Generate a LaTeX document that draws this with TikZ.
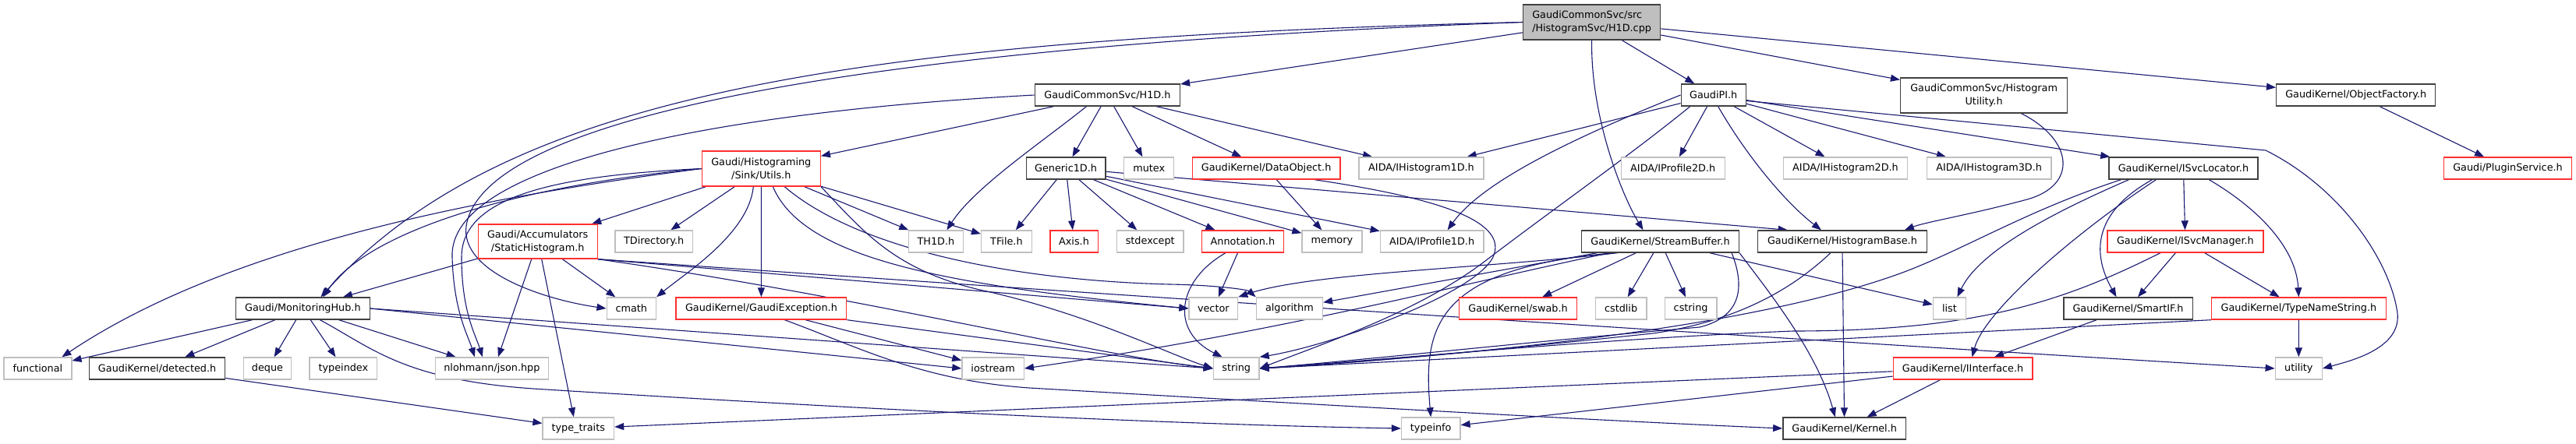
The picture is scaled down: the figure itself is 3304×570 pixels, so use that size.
\documentclass[tikz,border=0pt]{standalone}
\usepackage{fontspec}
\newfontfamily\dvs{DejaVu Sans}
\usetikzlibrary{arrows.meta}
\definecolor{edgec}{HTML}{191970}
\definecolor{grayc}{HTML}{BFBFBF}
\definecolor{redc}{HTML}{FF3030}
\definecolor{blackc}{HTML}{404040}
\definecolor{rootfill}{HTML}{BFBFBF}
\pgfdeclarelayer{edgelayer}
\pgfsetlayers{edgelayer,main}
\tikzset{
 nb/.style={rectangle, inner sep=0pt, fill=white, line width=1.4pt, font={\dvs\fontsize{12.8pt}{17pt}\selectfont}, align=center, minimum height=28pt, text=black},
 gb/.style={nb, draw=grayc},
 rb/.style={nb, draw=redc},
 kb/.style={nb, draw=blackc},
 rootb/.style={nb, draw=blackc, fill=rootfill, align=left},
 lnk/.style={draw=edgec, line width=1.1pt, -{Triangle[length=12pt,width=9pt]}},
}
\begin{document}
\begin{tikzpicture}[x=1pt,y=-1pt]
\useasboundingbox (0,0) rectangle (3304,570);
% row 0
\node[rootb, minimum width=176pt, minimum height=45pt] (root) at (2041.6,28.5) {GaudiCommonSvc/src\\/HistogramSvc/H1D.cpp};
% row 1
\node[kb, minimum width=186pt] (h1dh) at (1420.4,122) {GaudiCommonSvc/H1D.h};
\node[kb, minimum width=83pt] (gpi) at (2197.7,122) {GaudiPI.h};
\node[kb, minimum width=214pt, minimum height=45pt] (hutil) at (2544.6,122.5) {GaudiCommonSvc/Histogram\\Utility.h};
\node[kb, minimum width=204pt] (objf) at (3021.7,122) {GaudiKernel/ObjectFactory.h};
% row 2
\node[rb, minimum width=152pt, minimum height=45pt] (utils) at (976.3,216.5) {Gaudi/Histograming\\/Sink/Utils.h};
\node[kb, minimum width=101.5pt] (gen1d) at (1367.1,216) {Generic1D.h};
\node[gb, minimum width=64pt] (mutex) at (1473.7,216) {mutex};
\node[rb, minimum width=189.6pt] (dataobj) at (1624.1,216) {GaudiKernel/DataObject.h};
\node[gb, minimum width=159.7pt] (ih1d) at (1823,216) {AIDA/IHistogram1D.h};
\node[gb, minimum width=133pt] (ip2d) at (2145.7,216) {AIDA/IProfile2D.h};
\node[gb, minimum width=159pt] (ih2d) at (2367,216) {AIDA/IHistogram2D.h};
\node[gb, minimum width=159.6pt] (ih3d) at (2551.2,216) {AIDA/IHistogram3D.h};
\node[kb, minimum width=190.8pt] (isvcloc) at (2800.4,216) {GaudiKernel/ISvcLocator.h};
\node[rb, minimum width=164pt] (plugin) at (3216.5,216) {Gaudi/PluginService.h};
% row 3
\node[rb, minimum width=153pt, minimum height=44pt] (stath) at (689.7,310) {Gaudi/Accumulators\\/StaticHistogram.h};
\node[gb, minimum width=99.7pt] (tdir) at (838.7,310) {TDirectory.h};
\node[gb, minimum width=70pt] (th1d) at (1200.4,310) {TH1D.h};
\node[gb, minimum width=64.6pt] (tfile) at (1290.9,310) {TFile.h};
\node[rb, minimum width=61.4pt] (axis) at (1377.5,310) {Axis.h};
\node[gb, minimum width=85.4pt] (stdexc) at (1475.2,310) {stdexcept};
\node[rb, minimum width=105pt] (annot) at (1593.9,310) {Annotation.h};
\node[gb, minimum width=76.8pt] (memory) at (1708.4,310) {memory};
\node[gb, minimum width=132.5pt] (ip1d) at (1836.6,310) {AIDA/IProfile1D.h};
\node[kb, minimum width=201.8pt] (sbuf) at (2129.5,310) {GaudiKernel/StreamBuffer.h};
\node[kb, minimum width=217pt] (hbase) at (2362.9,310) {GaudiKernel/HistogramBase.h};
\node[rb, minimum width=200pt] (isvcman) at (2802.9,310) {GaudiKernel/ISvcManager.h};
% row 4
\node[kb, minimum width=171.8pt] (mhub) at (388.4,396) {Gaudi/MonitoringHub.h};
\node[gb, minimum width=63.2pt] (cmath) at (809.8,396) {cmath};
\node[rb, minimum width=218.6pt] (gexc) at (976.4,396) {GaudiKernel/GaudiException.h};
\node[gb, minimum width=62.5pt] (vector) at (1556.3,396) {vector};
\node[gb, minimum width=85pt] (algo) at (1653.9,396) {algorithm};
\node[rb, minimum width=151pt] (swab) at (1947,396) {GaudiKernel/swab.h};
\node[gb, minimum width=65.4pt] (cstdlib) at (2079.1,396) {cstdlib};
\node[gb, minimum width=66.4pt] (cstring) at (2168.6,396) {cstring};
\node[gb, minimum width=42pt] (list) at (2500.4,396) {list};
\node[kb, minimum width=165.4pt] (smartif) at (2729.5,396) {GaudiKernel/SmartIF.h};
\node[rb, minimum width=224pt] (tns) at (2948.4,396) {GaudiKernel/TypeNameString.h};
% row 5
\node[gb, minimum width=86.8pt] (functional) at (48.4,473) {functional};
\node[kb, minimum width=174pt] (detected) at (201.6,473) {GaudiKernel/detected.h};
\node[gb, minimum width=61pt] (deque) at (343,473) {deque};
\node[gb, minimum width=86.5pt] (typeindex) at (440.4,473) {typeindex};
\node[gb, minimum width=145.4pt] (json) at (630.9,473) {nlohmann/json.hpp};
\node[gb, minimum width=79.3pt] (iostream) at (1273.6,473) {iostream};
\node[gb, minimum width=58.6pt] (string) at (1585.7,473) {string};
\node[rb, minimum width=178.6pt] (iinterface) at (2517.5,473) {GaudiKernel/IInterface.h};
\node[gb, minimum width=60pt] (utility) at (2948.3,473) {utility};
% row 6
\node[gb, minimum width=91.4pt] (ttraits) at (741.8,550) {type\_traits};
\node[gb, minimum width=75.4pt] (typeinfo) at (1835.2,550) {typeinfo};
\node[kb, minimum width=157.8pt] (kernel) at (2365.7,550) {GaudiKernel/Kernel.h};

\begin{pgfonlayer}{edgelayer}
\fill[white] (0,0) rectangle (3304,570);
% root
\draw[lnk] (root) -- (h1dh);
\draw[lnk] (root) -- (gpi);
\draw[lnk] (root) -- (hutil);
\draw[lnk] (root) -- (objf);
\draw[lnk] (root.south) .. controls (2040,150) and (2080,250) .. ([xshift=-22pt]sbuf.north);
\draw[lnk] (root.west) .. controls (1050,50) and (640,130) .. ([xshift=23pt]mhub.north);
\draw[lnk] (root.west) .. controls (1100,60) and (620,150) .. (598,290) .. controls (590,350) and (700,385) .. (cmath.west);
% H1D.h
\draw[lnk] (h1dh) -- (utils);
\draw[lnk] ([xshift=-27pt]h1dh.south) .. controls (1340,180) and (1250,240) .. ([xshift=14pt]th1d.north);
\draw[lnk] (h1dh) -- (gen1d);
\draw[lnk] (h1dh) -- (mutex);
\draw[lnk] (h1dh) -- (dataobj);
\draw[lnk] (h1dh) -- (ih1d);
\draw[lnk] (h1dh.west) .. controls (900,145) and (575,215) .. (580,330) .. controls (582,400) and (600,430) .. ([xshift=-22pt]json.north);
% Utils.h
\draw[lnk] (utils.west) .. controls (720,225) and (592,250) .. (592,330) .. controls (592,400) and (610,430) .. ([xshift=-12pt]json.north);
\draw[lnk] (utils.west) .. controls (640,250) and (300,310) .. ([xshift=31pt]functional.north);
\draw[lnk] (utils.west) .. controls (650,240) and (470,300) .. ([xshift=26pt]mhub.north);
\draw[lnk] (utils) -- (stath);
\draw[lnk] (utils) -- (tdir);
\draw[lnk] ([xshift=-10pt]utils.south) .. controls (960,300) and (880,350) .. (cmath.north east);
\draw[lnk] (utils) -- (gexc);
\draw[lnk] (utils) -- (th1d);
\draw[lnk] (utils) -- (tfile);
\draw[lnk] ([xshift=15pt]utils.south) .. controls (1030,330) and (1200,365) .. (vector.west);
\draw[lnk] ([xshift=30pt]utils.south) .. controls (1100,320) and (1300,360) .. (1500,365) .. controls (1560,366) and (1600,372) .. (algo.north west);
\draw[lnk] (utils.south east) .. controls (1110,300) and (1150,350) .. (1270,375) .. controls (1400,405) and (1500,455) .. (string.west);
% StaticHistogram.h
\draw[lnk] (stath) -- (mhub);
\draw[lnk] (stath) -- (cmath);
\draw[lnk] ([xshift=-8pt]stath.south) -- ([xshift=8pt]json.north);
\draw[lnk] ([xshift=5pt]stath.south) -- ([xshift=-6pt]ttraits.north);
\draw[lnk] (stath.south east) -- (vector.west);
\draw[lnk] (stath.south east) .. controls (1100,380) and (1400,455) .. (string.west);
\draw[lnk] (stath.south east) .. controls (1300,370) and (2200,430) .. (utility.west);
% GaudiException.h
\draw[lnk] (gexc) -- (iostream);
\draw[lnk] (gexc.south east) -- (string.west);
\draw[lnk] ([xshift=30pt]gexc.south) .. controls (1100,445) and (1180,488) .. (1320,498) .. controls (1700,520) and (2050,540) .. (kernel.west);
% MonitoringHub.h
\draw[lnk] (mhub) -- (functional);
\draw[lnk] (mhub) -- (detected);
\draw[lnk] (mhub) -- (deque);
\draw[lnk] (mhub) -- (typeindex);
\draw[lnk] (mhub) -- (json);
\draw[lnk] (mhub.east) -- (string.west);
\draw[lnk] (mhub.east) -- (iostream.west);
\draw[lnk] ([xshift=22pt]mhub.south) .. controls (480,448) and (520,490) .. (700,500) .. controls (1100,525) and (1500,545) .. (typeinfo.west);
\draw[lnk] (detected) -- (ttraits);
% Generic1D.h
\draw[lnk] (gen1d) -- (tfile);
\draw[lnk] (gen1d) -- (axis);
\draw[lnk] (gen1d) -- (stdexc);
\draw[lnk] (gen1d) -- (annot);
\draw[lnk] (gen1d) -- (memory);
\draw[lnk] (gen1d) -- (ip1d);
\draw[lnk] (gen1d) -- ([xshift=39pt]hbase.north west);
% DataObject.h
\draw[lnk] (dataobj) -- (memory);
\draw[lnk] ([xshift=62pt]dataobj.south) .. controls (1850,255) and (1935,285) .. (1915,330) .. controls (1890,380) and (1700,445) .. (string.north east);
% Annotation.h
\draw[lnk] (annot) -- (vector);
\draw[lnk] ([xshift=-22pt]annot.south) .. controls (1510,360) and (1500,425) .. ([xshift=-18pt]string.north);
% GaudiPI.h
\draw[lnk] (gpi) -- (ih1d);
\draw[lnk] (gpi.west) .. controls (2010,180) and (1900,235) .. ([xshift=20pt]ip1d.north);
\draw[lnk] ([xshift=-30pt]gpi.south) .. controls (2090,200) and (1990,270) .. (1905,335) .. controls (1820,400) and (1700,440) .. (string.east);
\draw[lnk] (gpi) -- (ip2d);
\draw[lnk] (gpi) -- (ih2d);
\draw[lnk] (gpi) -- (ih3d);
\draw[lnk] (gpi) -- (isvcloc);
\draw[lnk] ([xshift=6pt]gpi.south) .. controls (2240,200) and (2290,260) .. ([xshift=-27pt]hbase.north);
\draw[lnk] (gpi.-10) -- (2906,193) .. controls (3000,240) and (3062,330) .. (3074,396) .. controls (3085,445) and (3020,462) .. (utility.east);
% HistogramUtility.h
\draw[lnk] ([xshift=48pt]hutil.south) .. controls (2660,180) and (2665,238) .. (2600,256) .. controls (2530,275) and (2470,285) .. ([xshift=80pt]hbase.north);
% ObjectFactory.h
\draw[lnk] (objf) -- (plugin);
% ISvcLocator.h
\draw[lnk] (isvcloc) -- (isvcman);
\draw[lnk] ([xshift=33pt]isvcloc.south) .. controls (2900,270) and (2945,320) .. (tns.north);
\draw[lnk] ([xshift=-70pt]isvcloc.south) .. controls (2640,270) and (2540,320) .. ([xshift=10pt]list.north);
\draw[lnk] ([xshift=-40pt]isvcloc.south) .. controls (2690,270) and (2680,320) .. ([xshift=-15pt]smartif.north);
\draw[lnk] ([xshift=-35pt]isvcloc.south) .. controls (2660,300) and (2545,400) .. ([xshift=12pt]iinterface.north);
\draw[lnk] ([xshift=-80pt]isvcloc.south) .. controls (2600,270) and (2520,320) .. (2440,350) .. controls (2250,420) and (1900,455) .. (string.east);
% ISvcManager.h
\draw[lnk] (isvcman) -- (smartif);
\draw[lnk] (isvcman) -- (tns);
\draw[lnk] ([xshift=-32pt]isvcman.south) .. controls (2650,385) and (2540,425) .. (2300,425) .. controls (2050,435) and (1800,460) .. (string.east);
% TypeNameString.h
\draw[lnk] (tns.south west) -- (string.east);
\draw[lnk] (tns) -- (utility);
% SmartIF.h
\draw[lnk] (smartif) -- (iinterface);
% IInterface.h
\draw[lnk] (iinterface) -- (kernel);
\draw[lnk] (iinterface) -- (typeinfo);
\draw[lnk] (iinterface) -- (ttraits);
% StreamBuffer.h
\draw[lnk] (sbuf) -- (algo);
\draw[lnk] ([xshift=-55pt]sbuf.south) .. controls (1900,345) and (1680,350) .. (vector.north east);
\draw[lnk] (sbuf) -- (swab);
\draw[lnk] (sbuf) -- (cstdlib);
\draw[lnk] (sbuf) -- (cstring);
\draw[lnk] (sbuf) -- (list);
\draw[lnk] ([xshift=-65pt]sbuf.south) .. controls (1870,365) and (1650,425) .. (iostream.east);
\draw[lnk] ([xshift=-60pt]sbuf.south) .. controls (1840,345) and (1825,420) .. (typeinfo.north);
\draw[lnk] (sbuf.south east) .. controls (2265,370) and (2330,450) .. ([xshift=-12pt]kernel.north);
\draw[lnk] ([xshift=-10pt]sbuf.south east) .. controls (2235,360) and (2240,405) .. (2180,420) .. controls (1950,440) and (1750,462) .. (string.east);
% HistogramBase.h
\draw[lnk] (hbase) -- (kernel);
\draw[lnk] ([xshift=-15pt]hbase.south) .. controls (2300,370) and (2230,412) .. (2120,428) .. controls (1930,448) and (1760,465) .. (string.east);
\end{pgfonlayer}
\end{tikzpicture}
\end{document}
